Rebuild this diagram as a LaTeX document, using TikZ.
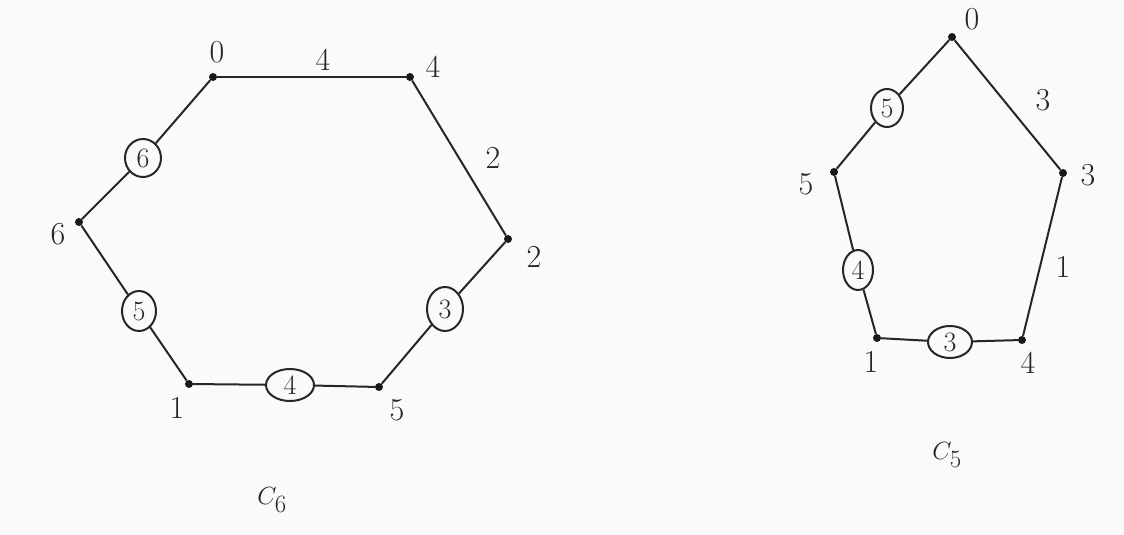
\documentclass[tikz,border=0pt]{standalone}
\usepackage{tikz}
\usetikzlibrary{shapes.geometric}
\begin{document}
\begin{tikzpicture}[x=1pt,y=-1pt,
  edge/.style={line width=2pt, black!85},
  vdot/.style={circle, fill=black!90, inner sep=0pt, minimum size=8pt},
  lbl/.style={font=\fontsize{32}{34}\selectfont, inner sep=0pt, text=black!85},
  circ/.style={ellipse, draw=black!85, line width=2pt, inner sep=0pt, text=black!85, font=\fontsize{28}{30}\selectfont},
  title/.style={font=\fontsize{40}{42}\selectfont, inner sep=0pt, text=black!85}
]
\fill[black!2] (0,0) rectangle (1124,535);
\useasboundingbox (0,0) rectangle (1124,535);

% ---------- C6 ----------
\node[vdot] (h0) at (213,77) {};
\node[vdot] (h4) at (410,77) {};
\node[vdot] (h2) at (508,239) {};
\node[vdot] (h5) at (379,387) {};
\node[vdot] (h1) at (189,384) {};
\node[vdot] (h6) at (79,222) {};

\node[lbl] (lh0) at (217,52) {0};
\node[lbl] (lh4) at (433,67) {4};
\node[lbl] (lh2) at (534,257) {2};
\node[lbl] (lh5) at (397,410) {5};
\node[lbl] (lh1) at (177,408) {1};
\node[lbl] (lh6) at (58,234) {6};

\node[circ, minimum width=36pt, minimum height=44pt] (ch3) at (445,309) {3};
\node[circ, minimum width=48pt, minimum height=32pt] (ch4) at (290,385) {4};
\node[circ, minimum width=34pt, minimum height=40pt] (ch5) at (139,311) {5};
\node[circ, minimum width=36pt, minimum height=38pt] (ch6) at (143,158) {6};

\node[lbl] (eh04) at (323,60) {4};
\node[lbl] (eh42) at (493,158) {2};

\draw[edge] (h0) -- (h4);
\draw[edge] (h4) -- (h2);
\draw[edge] (h2) -- (ch3) -- (h5);
\draw[edge] (h5) -- (ch4) -- (h1);
\draw[edge] (h1) -- (ch5) -- (h6);
\draw[edge] (h6) -- (ch6) -- (h0);

\node[title] (t6) at (272,500) {$C_6$};

% ---------- C5 ----------
\node[vdot] (p0) at (952,37) {};
\node[vdot] (p3) at (1063,173) {};
\node[vdot] (p4) at (1022,340) {};
\node[vdot] (p1) at (877,338) {};
\node[vdot] (p5) at (834,172) {};

\node[lbl] (lp0) at (972,19) {0};
\node[lbl] (lp3) at (1088,175) {3};
\node[lbl] (lp4) at (1028,363) {4};
\node[lbl] (lp1) at (871,362) {1};
\node[lbl] (lp5) at (806,184) {5};

\node[circ, minimum width=32pt, minimum height=38pt] (cp5) at (887,108) {5};
\node[circ, minimum width=30pt, minimum height=40pt] (cp4) at (858,270) {4};
\node[circ, minimum width=44pt, minimum height=32pt] (cp3) at (950,342) {3};

\node[lbl] (ep03) at (1043,100) {3};
\node[lbl] (ep34) at (1063,267) {1};

\draw[edge] (p0) -- (p3);
\draw[edge] (p3) -- (p4);
\draw[edge] (p4) -- (cp3) -- (p1);
\draw[edge] (p1) -- (cp4) -- (p5);
\draw[edge] (p5) -- (cp5) -- (p0);

\node[title] (t5) at (947,455) {$C_5$};
\end{tikzpicture}
\end{document}
